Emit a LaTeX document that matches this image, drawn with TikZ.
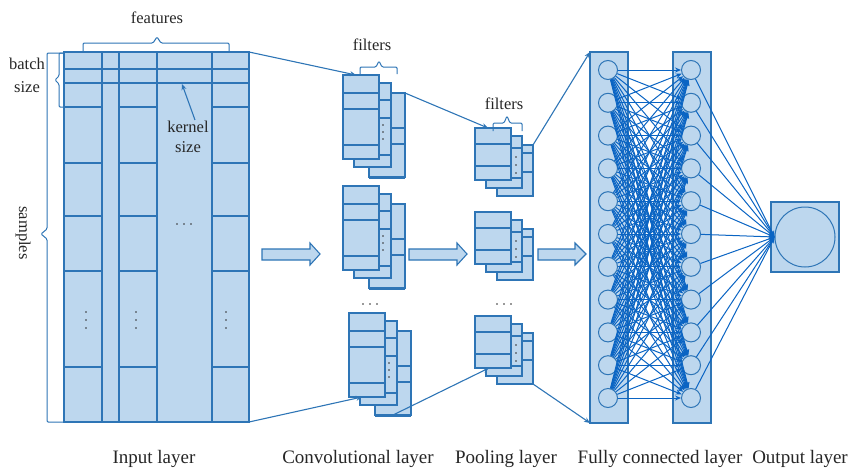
\documentclass[tikz,border=0pt]{standalone}
\usepackage{fontspec}
\setmainfont{Liberation Serif}
\usetikzlibrary{arrows.meta}
\definecolor{cfill}{RGB}{189,215,238}
\definecolor{cline}{RGB}{46,117,182}
\definecolor{cedge}{RGB}{10,100,195}
\tikzset{
  box/.style={draw=cline, fill=cfill, line width=1.1pt, inner sep=0pt, outer sep=0pt, rectangle},
  cell/.style={draw=cline, line width=1.1pt},
  conn/.style={draw=cline, line width=1.1pt, -{Stealth[length=6pt,width=5pt]}},
  fcedge/.style={draw=cedge, line width=1pt, -{Stealth[length=6pt,width=5pt]}},
  neuron/.style={circle, draw=cline, fill=cfill, line width=1pt, minimum size=19pt, inner sep=0pt},
  lbl/.style={font=\fontsize{19}{22}\selectfont, text=black!85},
  smalllbl/.style={font=\fontsize{16.5}{20}\selectfont, text=black!85},
  bracepath/.style={draw=cline, line width=1pt, rounded corners=1.2pt},
  dotfill/.style={fill=black!80},
  convstack/.pic={
    \node[box, minimum width=36pt, minimum height=84pt, anchor=north west] (-c) at (26,18) {};
    \draw[cell] (26,53) -- (62,53) (26,69) -- (62,69) (26,103) -- (62,103);
    \node[box, minimum width=37pt, minimum height=84pt, anchor=north west] (-b) at (11,8) {};
    \draw[cell] (11,25) -- (48,25) (11,43) -- (48,43) (11,80) -- (48,80);
    \foreach \yy in {50,57,64} \fill[dotfill] (40,\yy) circle (0.9pt);
    \node[box, minimum width=36pt, minimum height=84pt, anchor=north west] (-a) at (0,0) {};
    \draw[cell] (0,18) -- (36,18) (0,34) -- (36,34) (0,70) -- (36,70);
  },
  poolstack/.pic={
    \node[box, minimum width=36pt, minimum height=51pt, anchor=north west] (-c) at (22,17) {};
    \draw[cell] (22,25) -- (58,25) (22,44) -- (58,44);
    \node[box, minimum width=36pt, minimum height=52pt, anchor=north west] (-b) at (11,8) {};
    \draw[cell] (11,20) -- (47,20) (11,50) -- (47,50);
    \foreach \yy in {29,37,45} \fill[dotfill] (41,\yy) circle (0.9pt);
    \node[box, minimum width=36pt, minimum height=52pt, anchor=north west] (-a) at (0,0) {};
    \draw[cell] (0,16) -- (36,16) (0,38) -- (36,38);
  }
}
\begin{document}
\begin{tikzpicture}[x=1pt, y=-1pt]
\useasboundingbox (0,0) rectangle (856,471);

% ---------- input layer ----------
\node[box, minimum width=185pt, minimum height=370pt, anchor=north west] (inp) at (64,52) {};
\draw[cell] (102,52) -- (102,422) (119,52) -- (119,422) (157,52) -- (157,422) (212,52) -- (212,422);
\draw[cell] (64,69) -- (249,69) (64,83) -- (249,83);
\foreach \yy in {107,163,216,271,367}
  \draw[cell] (64,\yy) -- (102,\yy) (119,\yy) -- (157,\yy) (212,\yy) -- (249,\yy);
\foreach \xx in {86,136,226} \foreach \yy in {312,320,328} \fill[dotfill] (\xx,\yy) circle (0.9pt);
\foreach \xx in {177,184,191} \fill[dotfill] (\xx,224) circle (0.9pt);

% braces and labels on input
\draw[bracepath] (83,52) -- (83,43) -- (153,43) -- (157,37) -- (161,43) -- (229,43) -- (229,52);
\node[smalllbl] (feat) at (157,18) {features};
\draw[bracepath] (64,53) -- (47,53) -- (47,229) -- (41,234) -- (47,239) -- (47,422) -- (64,422);
\draw[bracepath] (64,53) -- (59,53) -- (59,76) -- (55,80) -- (59,84) -- (59,107) -- (64,107);
\node[smalllbl, align=center, font=\fontsize{16.5}{23}\selectfont] (batch) at (27,75) {batch\\size};
\node[smalllbl, rotate=-90] (samp) at (23,233) {samples};
\node[smalllbl, align=center, inner sep=1pt] (kern) at (188,137) {kernel\\size};
\coordinate (ktip) at (182,84);
\draw[conn] ([xshift=7pt]kern.north) -- (ktip);

% ---------- convolutional layer ----------
\pic (conv1) at (343,75) {convstack};
\pic (conv2) at (343,186) {convstack};
\pic (conv3) at (349,313) {convstack};
\foreach \xx in {363,370,377} \fill[dotfill] (\xx,304) circle (0.9pt);
\draw[bracepath] (360,74) -- (360,67) -- (376,67) -- (379,61) -- (382,67) -- (397,67) -- (397,74);
\node[smalllbl] (filt1) at (372,45) {filters};

% ---------- pooling layer ----------
\pic (pool1) at (475,128) {poolstack};
\pic (pool2) at (475,212) {poolstack};
\pic (pool3) at (475,316) {poolstack};
\foreach \xx in {497,504,511} \fill[dotfill] (\xx,304) circle (0.9pt);
\draw[bracepath] (493,131) -- (493,123) -- (504,123) -- (507,116) -- (510,123) -- (522,123) -- (522,131);
\node[smalllbl] (filt2) at (504,104) {filters};

% ---------- block arrows ----------
\draw[box] (262,249) -- (310,249) -- (310,243) -- (320,254) -- (310,265) -- (310,260) -- (262,260) -- cycle;
\draw[box] (409,249) -- (457,249) -- (457,243) -- (467,254) -- (457,265) -- (457,260) -- (409,260) -- cycle;
\draw[box] (538,249) -- (575,249) -- (575,243) -- (586,254) -- (575,265) -- (575,260) -- (538,260) -- cycle;

% ---------- fully connected layer ----------
\node[box, minimum width=38pt, minimum height=371pt, anchor=north west] (fcL) at (590,52) {};
\node[box, minimum width=38pt, minimum height=371pt, anchor=north west] (fcR) at (673,52) {};
\foreach \i in {0,...,10} {
  \node[neuron] (L\i) at (608,{70+32.8*\i}) {};
  \node[neuron] (R\i) at (691,{70+32.8*\i}) {};
}

% ---------- output layer ----------
\node[box, minimum width=68pt, minimum height=70pt] (osq) at (805,237) {};
\node[neuron, minimum size=60pt] (O) at (805,237) {};

% ---------- connections ----------
\draw[conn] (inp.north east) -- ([xshift=13pt]conv1-a.north west);
\draw[conn] (inp.south east) -- ([xshift=13pt]conv3-a.south west);
\draw[conn] (conv1-c.north east) -- ([xshift=13pt]pool1-a.north west);
\draw[conn] (conv3-c.south) -- ([xshift=14pt]pool3-a.south west);
\draw[conn] (pool1-c.north east) -- (fcL.north west);
\draw[conn] (pool3-c.south east) -- (fcL.south west);
\foreach \i in {0,...,10} \foreach \j in {0,...,10} \draw[fcedge] (L\i) -- (R\j);
\foreach \j in {0,...,10} \draw[fcedge] (R\j) -- (O.west);

% ---------- layer labels ----------
\node[lbl] (t1) at (154,459) {Input layer};
\node[lbl] (t2) at (358,459) {Convolutional layer};
\node[lbl] (t3) at (506,459) {Pooling layer};
\node[lbl] (t4) at (660,459) {Fully connected layer};
\node[lbl] (t5) at (800,459) {Output layer};
\end{tikzpicture}
\end{document}
